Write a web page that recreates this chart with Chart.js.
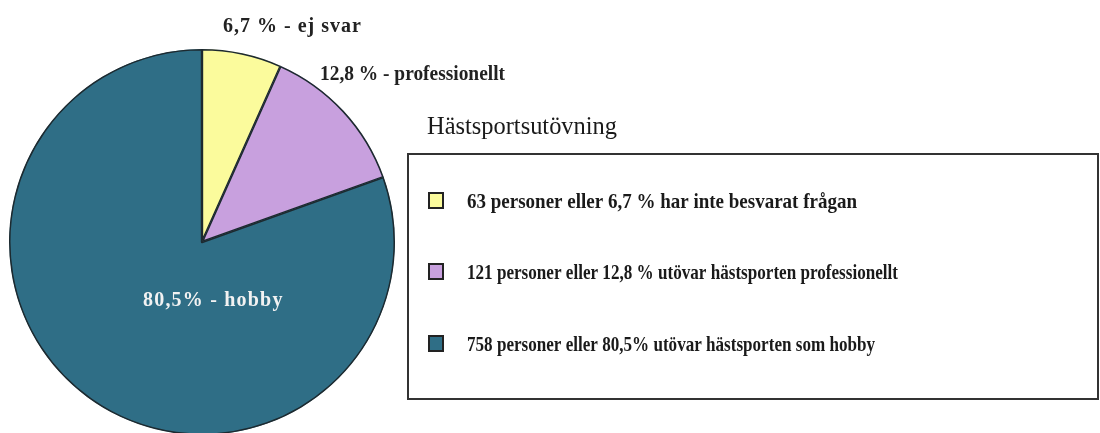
<!DOCTYPE html>
<html>
<head>
<meta charset="utf-8">
<script src="https://cdn.jsdelivr.net/npm/chart.js@4/dist/chart.umd.min.js"></script>
<style>
    html, body { margin: 0; padding: 0; background: #fff; overflow: hidden; }
    #wrap { position: relative; width: 1100px; height: 440px; }
</style>
</head>
<body>
<div id="wrap"><canvas id="grafico"></canvas></div>
<script>
// dados
const categorias = ["ej svar", "professionellt", "hobby"];
const pessoas = [63, 121, 758];
const percentuais = ["6,7", "12,8", "80,5"];
const rotulosFatia = ["6,7 % - ej svar", "12,8 % - professionellt", "80,5% - hobby"];
const textosLegenda = [
    "63 personer eller 6,7 % har inte besvarat frågan",
    "121 personer eller 12,8 % utövar hästsporten professionellt",
    "758 personer eller 80,5% utövar hästsporten som hobby"
];
const tituloLegenda = "Hästsportsutövning";
const cores = ["#fbfb9c", "#c8a0de", "#2f6e86"];

const serif = '"Liberation Serif", "Times New Roman", serif';

// desenha rótulos das fatias, título e caixa de legenda
const pluginTextos = {
    id: "textos",
    afterDraw(chart) {
        const ctx = chart.ctx;
        const arcs = chart.getDatasetMeta(0).data;
        const cx = arcs[0].x, cy = arcs[0].y;

        ctx.save();
        ctx.textBaseline = "middle";
        ctx.textAlign = "left";

        // rótulos externos
        ctx.fillStyle = "#222";
        ctx.font = "bold 20px " + serif;
        ctx.letterSpacing = "1px";
        ctx.fillText(rotulosFatia[0], cx + 21, 27, 139);
        ctx.letterSpacing = "0px";
        ctx.fillText(rotulosFatia[1], cx + 118, 75, 185);

        // rótulo interno (branco)
        ctx.fillStyle = "#f2f2f2";
        ctx.font = "bold 20px " + serif;
        ctx.letterSpacing = "1.2px";
        ctx.fillText(rotulosFatia[2], cx - 59, 301, 142);
        ctx.letterSpacing = "0px";

        // título
        ctx.fillStyle = "#1a1a1a";
        ctx.font = "25px " + serif;
        ctx.fillText(tituloLegenda, 427, 127, 190);

        // caixa
        ctx.strokeStyle = "#333";
        ctx.lineWidth = 2;
        ctx.strokeRect(408, 154, 690, 245);

        // itens
        const ys = [202, 273, 345];
        const larguras = [390, 431, 408];
        textosLegenda.forEach((t, i) => {
            ctx.fillStyle = cores[i];
            ctx.fillRect(429, ys[i] - 9, 14, 15);
            ctx.strokeStyle = "#222";
            ctx.lineWidth = 2;
            ctx.strokeRect(429, ys[i] - 9, 14, 15);

            ctx.fillStyle = "#1a1a1a";
            ctx.font = "bold 21px " + serif;
            ctx.fillText(t, 467, ys[i] + 1, larguras[i]);
        });
        ctx.restore();
    }
};

new Chart(document.getElementById("grafico"), {
    type: "pie",
    data: {
        labels: categorias,
        datasets: [{
            data: pessoas,
            backgroundColor: cores,
            borderColor: "#1d2a30",
            borderWidth: 1.2,
            borderAlign: "inner"
        }]
    },
    options: {
        responsive: true,
        maintainAspectRatio: false,
        animation: false,
        layout: { padding: { left: 9, top: 49, right: 705, bottom: 5 } },
        plugins: {
            legend: { display: false },
            tooltip: { enabled: false }
        }
    },
    plugins: [pluginTextos]
});
</script>
</body>
</html>
